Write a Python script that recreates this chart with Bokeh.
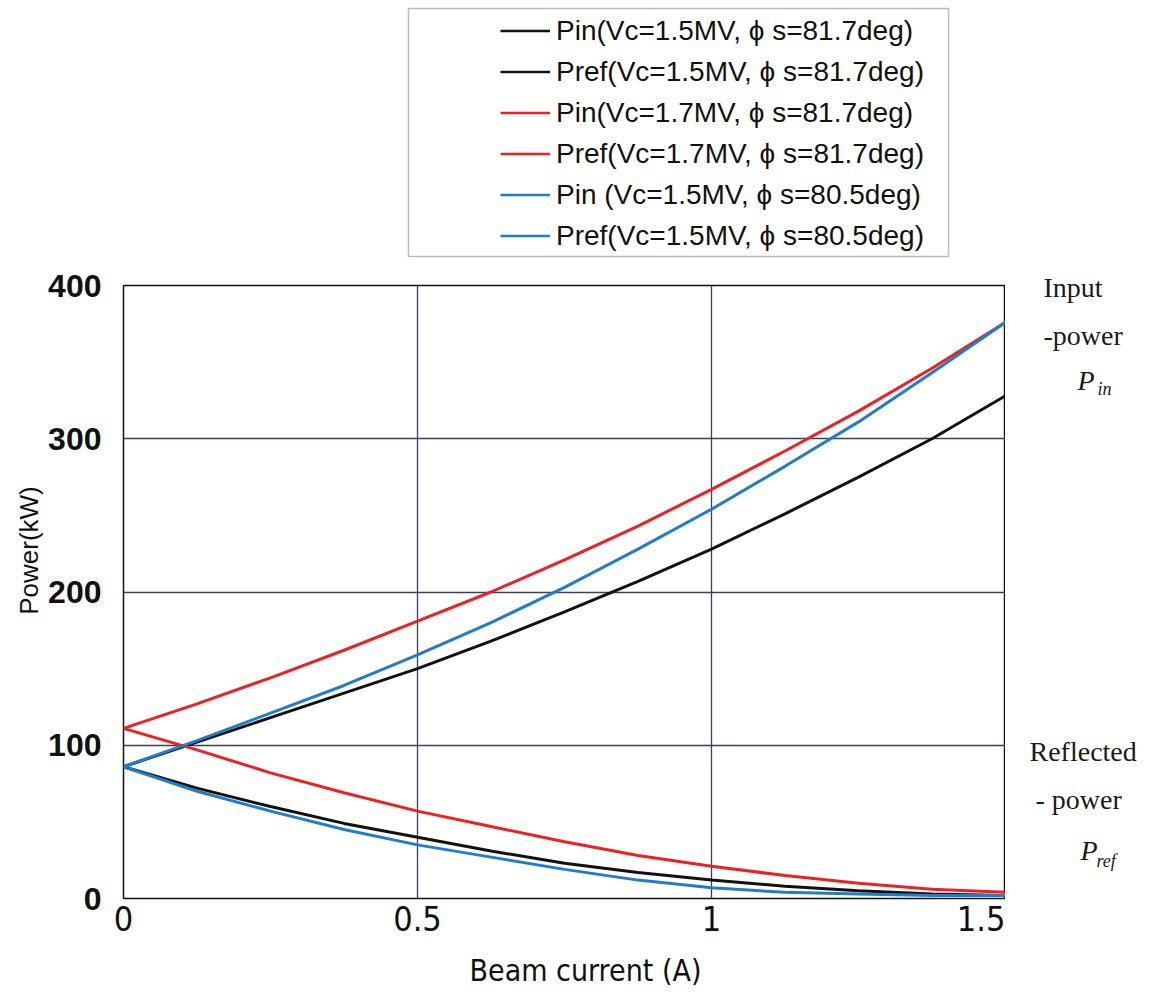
from math import pi
from bokeh.plotting import figure
from bokeh.layouts import column, row
from bokeh.models import Range1d, FixedTicker, Legend, LegendItem, Label, BoxAnnotation
from bokeh.embed import file_html
from bokeh.resources import INLINE

# ---- data ----
beam_current = [0, 0.125, 0.25, 0.375, 0.5, 0.625, 0.75, 0.875, 1.0, 1.125, 1.25, 1.375, 1.5]
pin_15_817 = [86, 102, 118, 134, 150, 168, 187, 207, 228, 251, 275, 300, 328]
pref_15_817 = [86, 72, 60, 49, 40, 31, 23, 17, 12, 8, 5, 3, 2]
pin_17_817 = [111, 127, 144, 162, 181, 200, 221, 243, 267, 292, 318, 346, 376]
pref_17_817 = [111, 97, 82, 69, 57, 47, 37, 28, 21, 15, 10, 6, 4]
pin_15_805 = [86, 103, 121, 139, 159, 180, 203, 228, 254, 282, 311, 343, 376]
pref_15_805 = [86, 70, 57, 45, 35, 27, 19, 12, 7, 4, 3, 2, 2]

x_ticks = [0, 0.5, 1, 1.5]
x_tick_labels = ["0", "0.5", "1", "1.5"]
y_ticks = [0, 100, 200, 300, 400]
y_tick_labels = ["0", "100", "200", "300", "400"]

legend_labels = [
    "Pin(Vc=1.5MV, \u03d5 s=81.7deg)",
    "Pref(Vc=1.5MV, \u03d5 s=81.7deg)",
    "Pin(Vc=1.7MV, \u03d5 s=81.7deg)",
    "Pref(Vc=1.7MV, \u03d5 s=81.7deg)",
    "Pin (Vc=1.5MV, \u03d5 s=80.5deg)",
    "Pref(Vc=1.5MV, \u03d5 s=80.5deg)",
]
series_colors = ["#111111", "#111111", "#ee2024", "#ee2024", "#1f7dca", "#1f7dca"]
series = [pin_15_817, pref_15_817, pin_17_817, pref_17_817, pin_15_805, pref_15_805]

TXT = "#111111"
SERIF = "Liberation Serif"
CONDENSED = "DejaVu Sans Condensed, Liberation Sans Narrow, Liberation Sans"


def blank(w, h):
    f = figure(width=w, height=h, x_range=Range1d(0, w), y_range=Range1d(0, h),
               output_backend="svg", toolbar_location=None, min_border=0,
               x_axis_location=None, y_axis_location=None)
    f.outline_line_color = None
    f.grid.visible = False
    return f


# ---------------- main plot ----------------
p = figure(width=960, height=682, output_backend="svg", toolbar_location=None,
           x_range=Range1d(0, 1.5), y_range=Range1d(0, 400),
           min_border_left=78, min_border_right=0,
           min_border_top=17, min_border_bottom=52)

p.outline_line_color = "#111111"
p.outline_line_width = 1.5

for ax in (p.xaxis[0], p.yaxis[0]):
    ax.axis_line_color = None
    ax.major_tick_line_color = None
    ax.minor_tick_line_color = None
    ax.major_label_text_color = TXT

p.xaxis.ticker = FixedTicker(ticks=x_ticks)
p.xaxis.major_label_overrides = dict(zip(x_ticks, x_tick_labels))
p.xaxis.major_label_text_font = CONDENSED
p.xaxis.major_label_text_font_size = "34px"
p.xaxis.major_label_standoff = 1

p.yaxis.ticker = FixedTicker(ticks=y_ticks)
p.yaxis.major_label_overrides = dict(zip(y_ticks, y_tick_labels))
p.yaxis.major_label_text_font = "Liberation Sans"
p.yaxis.major_label_text_font_style = "bold"
p.yaxis.major_label_text_font_size = "32px"
p.yaxis.major_label_standoff = 16

p.xgrid.ticker = x_ticks
p.ygrid.ticker = y_ticks
p.grid.grid_line_color = "#3e3e58"
p.grid.grid_line_width = 1.3

for vals, col in zip(series, series_colors):
    p.line(beam_current, vals, line_color=col, line_width=3)

# ---------------- legend (top strip) ----------------
top = blank(1142, 268)
proxies = [top.line(beam_current, vals, line_color=c, line_width=2.5, visible=False)
           for vals, c in zip(series, series_colors)]
legend = Legend(items=[LegendItem(label=l, renderers=[r]) for l, r in zip(legend_labels, proxies)],
                location=(500, 15),
                glyph_width=50, glyph_height=35, label_height=35,
                label_standoff=6, spacing=6, padding=6,
                border_line_color=None, background_fill_alpha=0,
                inactive_fill_alpha=0,
                label_text_font="Liberation Sans", label_text_font_size="28px",
                label_text_color=TXT)
top.add_layout(legend)
top.add_layout(BoxAnnotation(left=408, right=948, top=260, bottom=12,
                             fill_alpha=0, line_color="#222222", line_width=1.5))

# ---------------- y-axis title (left strip) ----------------
left = blank(45, 682)
left.add_layout(Label(x=28, y=400, text="Power(kW)", angle=pi / 2,
                      text_align="center", text_baseline="middle",
                      text_font="Liberation Sans", text_font_size="26px",
                      text_color=TXT))

# ---------------- right-side notes ----------------
right = blank(137, 682)


def note(x, y, text, size="28px", style="normal"):
    right.add_layout(Label(x=x, y=y, text=text, text_font=SERIF, text_font_size=size,
                           text_font_style=style, text_baseline="alphabetic",
                           text_color="#1a1a1a"))


note(38, 663, "Input")
note(38, 615, "-power")
note(72, 570, "P", style="italic")
note(92, 562, "in", size="18px", style="italic")
note(24, 199, "Reflected")
note(30, 151, "- power")
note(75, 100, "P", style="italic")
note(91, 90, "ref", size="18px", style="italic")

# ---------------- x-axis title (bottom strip) ----------------
bottom = blank(1142, 42)
bottom.add_layout(Label(x=585, y=22, text="Beam current (A)",
                        text_align="center", text_baseline="middle",
                        text_font=CONDENSED, text_font_size="30px", text_color=TXT))

layout = column(top, row(column(left), p, column(right)), bottom)

open("out.html", "w").write(file_html(layout, INLINE))
